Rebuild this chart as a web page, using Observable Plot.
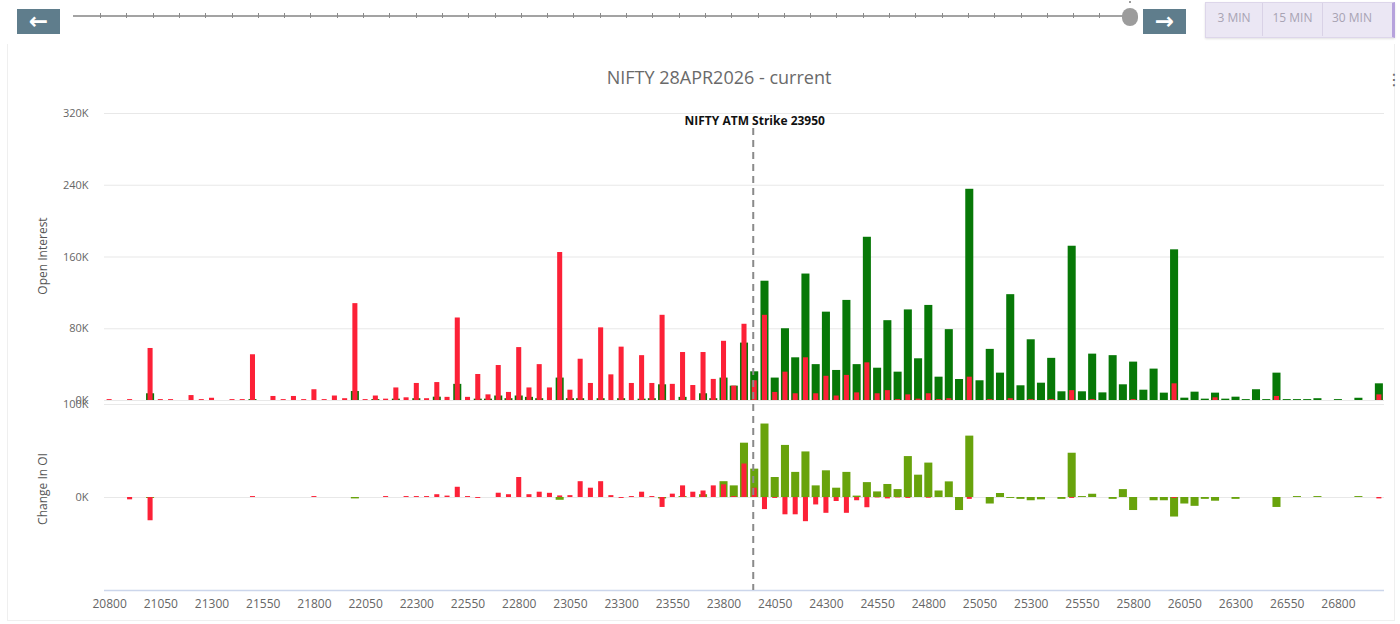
<!DOCTYPE html>
<html>
<head>
<meta charset="utf-8">
<script src="https://cdn.jsdelivr.net/npm/d3@7"></script>
<script src="https://cdn.jsdelivr.net/npm/@observablehq/plot@0.6"></script>
<style>
  html, body { margin: 0; padding: 0; background: #fff; }
  body { width: 1400px; height: 624px; overflow: hidden; position: relative; font-family: "Open Sans", sans-serif; }
  .abs { position: absolute; }
  .navbtn { position: absolute; top: 9px; width: 43px; height: 25px; background: #5f7d8c; color: #fff;
            font-family: "DejaVu Sans", sans-serif; font-weight: bold; font-size: 23px; line-height: 24px; text-align: center; }
  .seg { position: absolute; top: 3px; height: 33px; line-height: 30px; font-size: 12px; color: #a8a3b3; text-align: center; }
  .ytitle { position: absolute; left: 42px; transform: translate(-50%, -50%) rotate(-90deg); white-space: nowrap;
            font-size: 12px; color: #555; }
</style>
</head>
<body>
<div id="root"></div>
<script>
// ---------------- data (values in thousands) ----------------
const strikes = [
  20800,20850,20900,20950,21000,21050,21100,21150,21200,21250,
  21300,21350,21400,21450,21500,21550,21600,21650,21700,21750,
  21800,21850,21900,21950,22000,22050,22100,22150,22200,22250,
  22300,22350,22400,22450,22500,22550,22600,22650,22700,22750,
  22800,22850,22900,22950,23000,23050,23100,23150,23200,23250,
  23300,23350,23400,23450,23500,23550,23600,23650,23700,23750,
  23800,23850,23900,23950,24000,24050,24100,24150,24200,24250,
  24300,24350,24400,24450,24500,24550,24600,24650,24700,24750,
  24800,24850,24900,24950,25000,25050,25100,25150,25200,25250,
  25300,25350,25400,25450,25500,25550,25600,25650,25700,25750,
  25800,25850,25900,25950,26000,26050,26100,26150,26200,26250,
  26300,26350,26400,26450,26500,26550,26600,26650,26700,26750,
  26800,26850,26900,26950,27000
];
const xTickLabels = [20800,21050,21300,21550,21800,22050,22300,22550,22800,23050,23300,23550,
  23800,24050,24300,24550,24800,25050,25300,25550,25800,26050,26300,26550,26800];
const oiTicks = [0, 80, 160, 240, 320];
const chgTicks = [0, 100];
const atmStrike = 23950;
const atmLabel = "NIFTY ATM Strike 23950";

// red series: open interest
const putOI = [
  1,0,1,0,58,1,1,0,5.5,1,
  2.5,0,1,1,51,0,4.5,1,4.5,1,
  12,1,5,2,108,1,5,1.5,14,3,
  19,2,20,3.5,92,3.5,29,6.3,39,9,
  59,14,40,14,165,11.5,46,19,81,28.6,
  59.5,19,50,19,95,18,53.5,16.7,53.5,23.5,
  66,16,85,22,95,9,31.6,7.5,47.6,7.5,
  27,5,28,8.5,42,7.5,11,1,6.3,1.5,
  7.5,1,2,0,26,0,1,0,2,0,
  1,0,1,0,11,0,1,0,0,0,
  1,0,0,0,18.6,0,0,0,3,0,
  0,0,0,0,4.5,0,0,0,0,0,
  0,0,0,0,6.3
];
// green series: open interest
const callOI = [
  0,0,0,0,7.5,0,0,0,0,0,
  0,0,0,0,1,0,0,0,0,0,
  0,0,0,0,10,0,1,0,1.5,0,
  2,0,3.7,0,18,0,1.5,1.5,5,2,
  5,3.5,2,0,25,2,2,0,2,0,
  2,0,1.5,2,17.5,0,3.5,0,7.5,2,
  25,16,64,32,133,25,80,47.6,141,40,
  98.5,33.5,111.6,40,182,36,89,31.6,101,46.5,
  106,26,79,23.4,235.5,22,57,30.5,118,16.4,
  67.7,19.3,47,9.7,172,9.7,51.7,8.5,50,17.5,
  42.8,11.5,35,8.2,168,2.6,9.3,1.5,8.2,1.5,
  3.7,1,12,1,30.5,1,1,1,2,0,
  1,0,2.5,0,18.6
];
// red series: change in OI
const putChg = [
  0,0,-2.5,0,-25,0,0,0,0,0,
  0,0,0,0,1,0,0,0,0,0,
  1,0,0,0,0,0,0,1,0,1,
  1,1,3,1.5,11,1,-1,0,4.6,3,
  21.5,3,5.7,4.5,1.7,2,17,10,17,2,
  -1,1,5.7,1,-10.7,3.6,12.5,5.7,7,12.5,
  13.6,1,36,10,-13,-1,-18.6,-18.6,-26,-8,
  -17,-4.3,-17,-3.5,-11,-0.5,-1.5,-0.5,-1,0,
  -0.8,0,0,0,-2,0,0,0,0,0,
  0,0,0,0,-1,0,0,0,0,0,
  0,0,0,0,-1,0,0,0,0,0,
  0,0,0,0,0,0,0,0,0,0,
  0,0,0,0,-1.5
];
// green series: change in OI
const callChg = [
  0,0,0,0,-1,0,0,0,0,0,
  0,0,0,0,0,0,0,0,0,0,
  0,0,0,0,-1.5,0,0,0,0,0,
  0,0,0,0,0,0,0,0,0,0,
  0,0,0,0,-3,0,0,0,0,0,
  0,0,0,0,-1.5,0,1,0,3,0,
  17,12.5,58.4,30.5,79,21.5,56,27,49,12.5,
  28.7,10,27,1.5,16,6,14,8.5,44,24,
  37,7,16.8,-14,66,0,-7,4.3,-1,-2,
  -3.5,-2.5,0,-2,47.6,1,3.5,0,-2,8.5,
  -14,0,-3.5,-3.5,-21,-7,-9.5,-2,-4,0,
  -2,0,0,0,-10.7,0,1,0,1,0,
  0,0,1,0,0
];

const RED = "#fc2137";
const GREEN = "#077807";
const LIGHTGREEN = "#68a30c";

const rows = strikes.map((s, i) => ({strike: s, putOI: putOI[i], callOI: callOI[i], putChg: putChg[i], callChg: callChg[i]}));

const root = document.getElementById("root");
function add(html) { root.insertAdjacentHTML("beforeend", html); }

// ---------------- top controls ----------------
add(`<div class="navbtn" style="left:17px">&#8592;</div>`);
add(`<div class="abs" style="left:73px;top:15px;width:1057px;height:2px;background:#a3a3a3"></div>`);
for (let k = 0; k <= 38; k++) {
  const x = 100 + k * 26.3;
  add(`<div class="abs" style="left:${x.toFixed(1)}px;top:13px;width:1px;height:5px;background:#8a8a8a"></div>`);
}
add(`<div class="abs" style="left:1122px;top:8px;width:16px;height:18px;border-radius:8px;background:#9c9c9c"></div>`);
add(`<div class="abs" style="left:1129px;top:1px;width:2px;height:2px;background:#9c9c9c"></div>`);
add(`<div class="navbtn" style="left:1143px">&#8594;</div>`);
add(`<div class="abs" style="left:1205px;top:2px;width:186px;height:34px;background:#ebe7f4;border:1px solid #ddd6ea;border-right:3px solid #b6a2dc;box-shadow:0 1px 2px rgba(0,0,0,0.12)"></div>`);
add(`<div class="abs" style="left:1262px;top:3px;width:1px;height:33px;background:#d9d2e6"></div>`);
add(`<div class="abs" style="left:1322px;top:3px;width:1px;height:33px;background:#d9d2e6"></div>`);
add(`<div class="seg" style="left:1206px;width:56px">3 MIN</div>`);
add(`<div class="seg" style="left:1263px;width:59px">15 MIN</div>`);
add(`<div class="seg" style="left:1323px;width:58px">30 MIN</div>`);

// ---------------- chart card ----------------
add(`<div class="abs" style="left:7px;top:44px;width:1386px;height:576px;border:1px solid #efefef;border-top:none"></div>`);
add(`<div class="abs" style="left:719px;top:77px;transform:translate(-50%,-50%);font-size:18px;color:#6a6a6a;white-space:nowrap">NIFTY 28APR2026 - current</div>`);
add(`<div class="abs" style="left:1386px;top:70px;font-size:16px;color:#666;font-family:'DejaVu Sans'">&#8942;</div>`);
add(`<div class="ytitle" style="top:256px">Open Interest</div>`);
add(`<div class="ytitle" style="top:489px">Change In OI</div>`);

const commonStyle = {background: "transparent", overflow: "visible", fontFamily: "Open Sans, sans-serif", fontSize: "11px", color: "#666"};

// ---------------- open interest pane ----------------
const topPlot = Plot.plot({
  width: 1400, height: 305,
  marginLeft: 104, marginRight: 16, marginTop: 13, marginBottom: 5,
  style: commonStyle,
  x: {type: "band", domain: strikes, padding: 0, axis: null},
  y: {domain: [0, 320], ticks: oiTicks, tickFormat: d => d + "K", tickSize: 0, tickPadding: 16, label: null},
  marks: [
    Plot.ruleY(oiTicks, {stroke: "#e8e8e8", strokeWidth: 1.2}),
    Plot.barY(rows, {x: "strike", y: "callOI", fill: GREEN, insetLeft: 1.1, insetRight: 1.1}),
    Plot.barY(rows, {x: "strike", y: "putOI", fill: RED, insetLeft: 2.6, insetRight: 2.6}),
    Plot.ruleX([atmStrike], {x: d => d, dx: -1.5, stroke: "#8a8a8a", strokeWidth: 2, strokeDasharray: "7,5", insetTop: 15}),
    Plot.text([atmLabel], {x: () => atmStrike, frameAnchor: "top", dy: 3, fontWeight: "bold", fontSize: 12, fill: "#111"})
  ]
});
topPlot.style.position = "absolute";
topPlot.style.left = "0px";
topPlot.style.top = "100px";
root.appendChild(topPlot);

// ---------------- change in OI pane ----------------
const botPlot = Plot.plot({
  width: 1400, height: 230,
  marginLeft: 104, marginRight: 16, marginTop: 9, marginBottom: 35,
  style: commonStyle,
  x: {type: "band", domain: strikes, padding: 0, ticks: xTickLabels, tickFormat: d => String(d), tickSize: 0, tickPadding: 9, label: null},
  y: {domain: [-100, 100], ticks: chgTicks, tickFormat: d => d + "K", tickSize: 0, tickPadding: 16, label: null},
  marks: [
    Plot.ruleY(chgTicks, {stroke: "#e8e8e8", strokeWidth: 1.2}),
    Plot.ruleY([-100], {stroke: "#ccd6eb", strokeWidth: 1.5}),
    Plot.barY(rows, {x: "strike", y: "callChg", fill: LIGHTGREEN, insetLeft: 1.1, insetRight: 1.1}),
    Plot.barY(rows, {x: "strike", y: "putChg", fill: RED, insetLeft: 2.6, insetRight: 2.6}),
    Plot.ruleX([atmStrike], {x: d => d, dx: -1.5, stroke: "#8a8a8a", strokeWidth: 2, strokeDasharray: "7,5"})
  ]
});
botPlot.style.position = "absolute";
botPlot.style.left = "0px";
botPlot.style.top = "395px";
botPlot.querySelectorAll("g[aria-label='x-axis tick label'] text, g[aria-label='x-axis'] text").forEach(t => t.setAttribute("font-size", "12"));
root.appendChild(botPlot);
</script>
</body>
</html>
